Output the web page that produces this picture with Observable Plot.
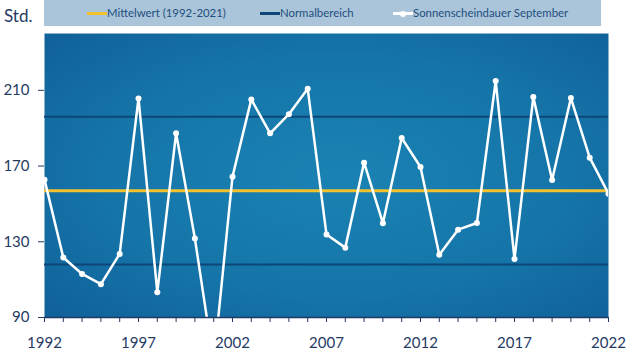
<!DOCTYPE html>
<html>
<head>
<meta charset="utf-8">
<script src="https://cdn.jsdelivr.net/npm/d3@7"></script>
<script src="https://cdn.jsdelivr.net/npm/@observablehq/plot@0.6"></script>
<style>
  html, body { margin: 0; padding: 0; background: #ffffff; }
  #wrap { position: relative; width: 632px; height: 355px; font-family: Lato, "Open Sans", sans-serif; }
  #legend { position: relative; width: 632px; height: 30px; }
  #std { position: absolute; left: 4px; top: 5px; font-size: 17px; color: #1f3b63; }
  #lbox { position: absolute; left: 44px; top: 0px; width: 557px; height: 26px; background: #aac5d9; }
  .item { position: absolute; top: 0; height: 26px; font-size: 11.4px; color: #1f4e80; line-height: 26px; white-space: nowrap; }
  .sw { position: absolute; top: 12px; width: 20px; height: 3px; }
  .dot { position: absolute; top: 10px; left: 7px; width: 6px; height: 6px; border-radius: 50%; background: #fff; }
  svg { display: block; }
</style>
</head>
<body>
<div id="wrap">
  <div id="legend">
    <div id="std">Std.</div>
    <div id="lbox"></div>
  </div>
  <div id="chart"></div>
</div>
<script>
const years = [1992,1993,1994,1995,1996,1997,1998,1999,2000,2001,2002,2003,2004,2005,2006,2007,2008,2009,2010,2011,2012,2013,2014,2015,2016,2017,2018,2019,2020,2021,2022];
const sunshine = [162.8,121.7,113.0,107.6,123.6,205.7,103.4,187.3,131.7,66,164.4,205.2,187.3,197.4,210.8,133.8,126.9,171.8,139.8,184.8,169.5,123.2,136.4,139.9,214.9,120.9,206.4,162.6,205.9,174.4,155.4];
const meanValue = 157;
const normalRange = [118, 196];
const yTicks = [90, 130, 170, 210];
const xLabelTicks = [1992, 1997, 2002, 2007, 2012, 2017, 2022];
const legendLabels = ["Mittelwert (1992-2021)", "Normalbereich", "Sonnenscheindauer September"];
const legendColors = ["#f2c12e", "#0d4777", "#ffffff"];

const data = years.map((y, i) => ({year: y, value: sunshine[i]}));

// legend
const lbox = document.getElementById("lbox");
const swX = [43, 216, 349];
legendLabels.forEach((lab, i) => {
  const sw = document.createElement("div");
  sw.className = "sw";
  sw.style.left = swX[i] + "px";
  sw.style.background = legendColors[i];
  if (i === 2) { const d = document.createElement("div"); d.className = "dot"; d.style.top = "-1.5px"; sw.appendChild(d); }
  lbox.appendChild(sw);
  const t = document.createElement("div");
  t.className = "item";
  t.style.left = (swX[i] + 20) + "px";
  t.textContent = lab;
  lbox.appendChild(t);
});

const navy = "#1f3b63";
const plot = Plot.plot({
  width: 632,
  height: 325,
  marginTop: 3,
  marginBottom: 38,
  marginLeft: 44,
  marginRight: 24,
  style: {fontFamily: "Lato, 'Open Sans', sans-serif", fontSize: "15px", color: navy, background: "transparent", overflow: "visible"},
  x: {domain: [1992, 2022]},
  y: {domain: [90, 240]},
  marks: [
    Plot.frame({fill: "url(#bggrad)", stroke: null}),
    Plot.ruleY(normalRange, {stroke: "#0d4777", strokeWidth: 2}),
    Plot.ruleY([meanValue], {stroke: "#f2c12e", strokeWidth: 3}),
    Plot.line(data, {x: "year", y: "value", stroke: "#ffffff", strokeWidth: 2.5, clip: true}),
    Plot.dot(data, {x: "year", y: "value", fill: "#ffffff", r: 3, clip: true}),
    Plot.ruleY([90], {stroke: navy, strokeWidth: 1.5}),
    Plot.axisX({ticks: years, tickSize: 5, tickFormat: () => "", stroke: navy, label: null}),
    Plot.axisX({ticks: xLabelTicks, tickSize: 0, tickPadding: 20, tickFormat: "d", fill: navy, label: null}),
    Plot.axisY({ticks: yTicks, tickSize: 6, tickPadding: 9, stroke: navy, fill: navy, label: null})
  ]
});

const svg = d3.select(plot);
const defs = svg.insert("defs", ":first-child");
const g = defs.append("radialGradient").attr("id", "bggrad").attr("cx", "0.52").attr("cy", "0.5").attr("r", "0.7");
g.append("stop").attr("offset", "0%").attr("stop-color", "#1a83b3");
g.append("stop").attr("offset", "60%").attr("stop-color", "#1574a8");
g.append("stop").attr("offset", "100%").attr("stop-color", "#10629a");
document.getElementById("chart").appendChild(plot);
</script>
</body>
</html>
